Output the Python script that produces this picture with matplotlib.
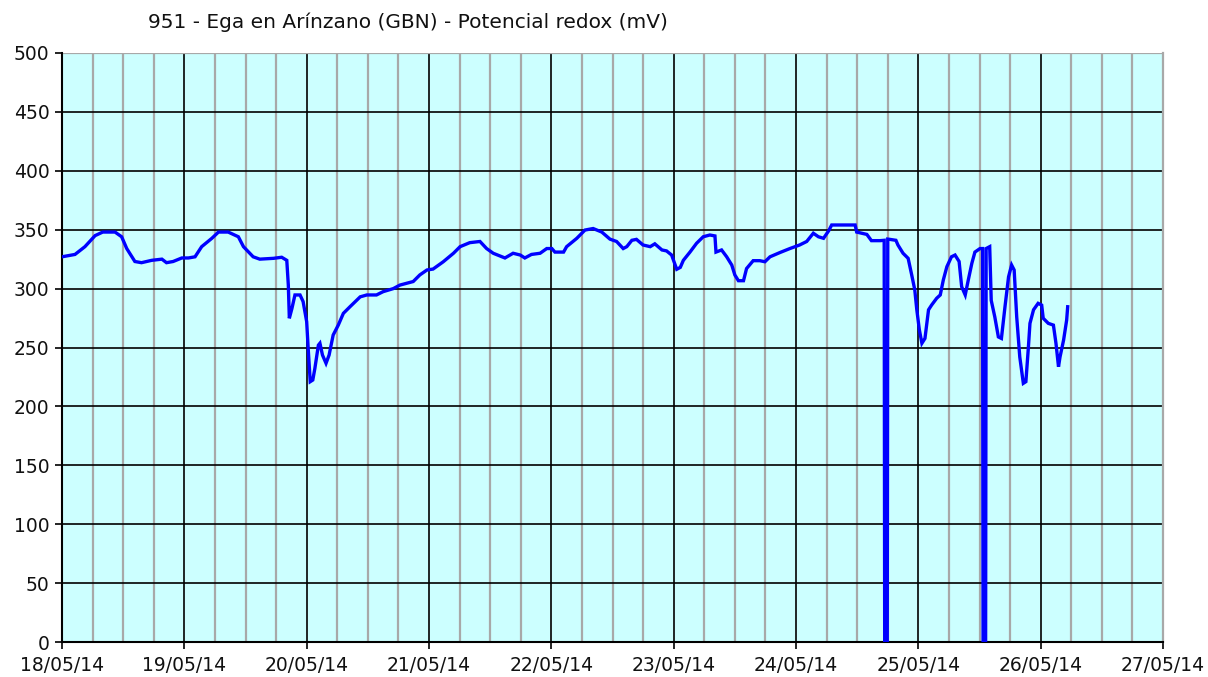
import matplotlib
matplotlib.use("Agg")
import matplotlib.pyplot as plt
import matplotlib.dates as mdates
import numpy as np
from datetime import datetime, timedelta

title = "951 - Ega en Arínzano (GBN) - Potencial redox (mV)"
start = datetime(2014, 5, 18)

# hours since 18/05/14 00:00
hours = [0, 2.55, 4.5, 6.5, 8.0, 10.4, 11.7, 12.7, 14.3, 15.6, 17.6, 19.6, 20.5, 21.8,
         23.5, 24.8, 26.1, 27.4, 29.4, 30.7, 32.6, 34.6, 35.6, 37.5, 38.8, 41.5, 43.1,
         44.1, 44.4, 44.6, 45.1, 45.7, 46.7, 47.3, 48.0, 48.3, 48.7, 49.2, 49.6, 50.3,
         50.6, 51.1, 51.8, 52.4, 53.2, 54.2, 55.2, 56.5, 58.5, 59.8, 61.7, 63.0, 65.0,
         66.3, 68.9, 70.2, 71.6, 72.8, 74.8, 76.8, 78.1, 80.0, 82.0, 83.3, 84.6, 86.9,
         88.5, 89.9, 90.8, 92.1, 93.8, 95.1, 96.1, 96.7, 98.4, 99.0, 101.0, 102.6, 104.2,
         105.9, 107.5, 108.8, 110.1, 110.8, 111.8, 112.7, 114.0, 115.4, 116.3, 117.7,
         118.6, 119.6, 120.3, 120.6, 121.3, 121.9, 123.2, 124.5, 125.8, 127.1, 128.1,
         128.3, 129.4, 130.4, 131.4, 132.0, 132.7, 133.7, 134.3, 135.6, 136.9, 137.9,
         138.9, 140.9, 142.8, 144.7, 146.1, 147.4, 148.4, 149.4, 150.4, 151.0, 152.6,
         154.6, 155.6, 155.9, 157.9, 158.8, 160.5, 161.3, 161.4, 161.9, 162.0, 162.4,
         163.6, 164.0, 165.0, 166.0, 166.7, 167.3, 167.7, 168.2, 168.7, 169.3, 170.0,
         170.6, 171.6, 172.3, 172.9, 173.6, 174.5, 175.2, 176.0, 176.5, 177.2, 177.8,
         178.5, 179.1, 180.1, 180.6, 180.7, 181.2, 181.3, 182.0, 182.3, 183.0, 183.7,
         184.3, 185.0, 185.7, 186.3, 186.8, 187.3, 187.9, 188.6, 189.1, 189.6, 189.9,
         190.6, 191.5, 192.2, 192.5, 193.5, 194.5, 195.0, 195.5, 195.8, 196.5, 197.1,
         197.3]
redox = [327, 329, 335.6, 345, 348, 348, 344, 334, 323, 322, 324, 325, 322, 323,
         326, 326, 327, 335.6, 342.7, 348, 348, 344, 335.6, 327, 325, 325.7, 326.6,
         324, 303, 274.8, 283, 294.6, 294.6, 289, 272, 249, 221, 222.4, 232, 252,
         253.6, 243.6, 236.6, 243.6, 260.6, 269, 279, 284.6, 293, 294.6, 294.6, 297.4, 300,
         303, 306, 311.6, 315.8, 316.6, 322.8, 330, 335.6, 339, 340, 334, 330, 326,
         330, 328.5, 326, 329, 330, 334, 334, 331, 331, 335.6, 342.7, 349.7, 351,
         348, 342, 340, 334, 335.6, 341, 341.8, 337, 335.6, 338, 332.8,
         332, 328.5, 320, 316.4, 318, 324, 331, 338.5, 344, 345.5, 344.7,
         331, 332.8, 327, 320, 311.6, 306.7, 306.7, 317, 323.7, 323.7, 322.8,
         327, 330.7, 334, 337, 340, 347, 344, 342.7, 349, 354, 354,
         354, 354, 348, 346, 340.7, 340.7, 341, 0, 0, 342, 341.8,
         341, 337, 330, 325.7, 311.6, 299, 282, 265, 253.6, 257.7, 282,
         286, 291.8, 294.6, 307.3, 318.6, 327, 328.5, 323, 301.6, 294.6, 307.3,
         321.5, 331, 334, 334, 0, 0, 334, 335.6, 290, 276, 259,
         257.7, 284.6, 310, 320, 315.8, 276, 242, 219.6, 221, 250.7, 270.5,
         282, 287.5, 286, 274.8, 270.5, 269, 253.6, 233.7, 242, 256.4, 273.3,
         284.6]

y_ticks = [0, 50, 100, 150, 200, 250, 300, 350, 400, 450, 500]
n_days = 9

times = [start + timedelta(hours=h) for h in hours]

fig = plt.figure(figsize=(12.08, 6.77), dpi=100)
ax = fig.add_axes([62 / 1208, 1 - 642 / 677, (1163 - 62) / 1208, (642 - 53) / 677])
ax.set_facecolor("#CCFFFF")

x0 = start
x1 = start + timedelta(days=n_days)
ax.set_xlim(x0, x1)
ax.set_ylim(0, 500)

# grid lines
for q in range(1, n_days * 4):
    if q % 4 != 0:
        ax.axvline(start + timedelta(hours=6 * q), color="#A8A8A8", lw=1.6, zorder=1)
for d in range(1, n_days):
    ax.axvline(start + timedelta(days=d), color="#000000", lw=1.2, zorder=1)
for v in y_ticks[1:-1]:
    ax.axhline(v, color="#000000", lw=1.2, zorder=1)
ax.axhline(500, color="#A8A8A8", lw=1.6, zorder=1)

ax.plot(times, redox, color="#0000FF", lw=2.4, zorder=3, solid_joinstyle="miter")

ax.set_yticks(y_ticks)
ax.xaxis.set_major_locator(mdates.DayLocator())
ax.xaxis.set_major_formatter(mdates.DateFormatter("%d/%m/%y"))
ax.tick_params(axis="both", labelsize=13.5, colors="#000000", length=5, width=1.2,
               labelcolor="#111111")
ax.tick_params(axis="x", pad=5)
ax.tick_params(axis="y", pad=4)

ax.spines["top"].set_visible(False)
ax.spines["right"].set_color("#A8A8A8")
ax.spines["right"].set_linewidth(1.6)
ax.spines["left"].set_linewidth(1.5)
ax.spines["bottom"].set_linewidth(1.5)

fig.text(148 / 1208, 1 - 22 / 677, title, fontsize=14.5,
         ha="left", va="center", color="#111111")

fig.savefig("out.png", dpi=100)
